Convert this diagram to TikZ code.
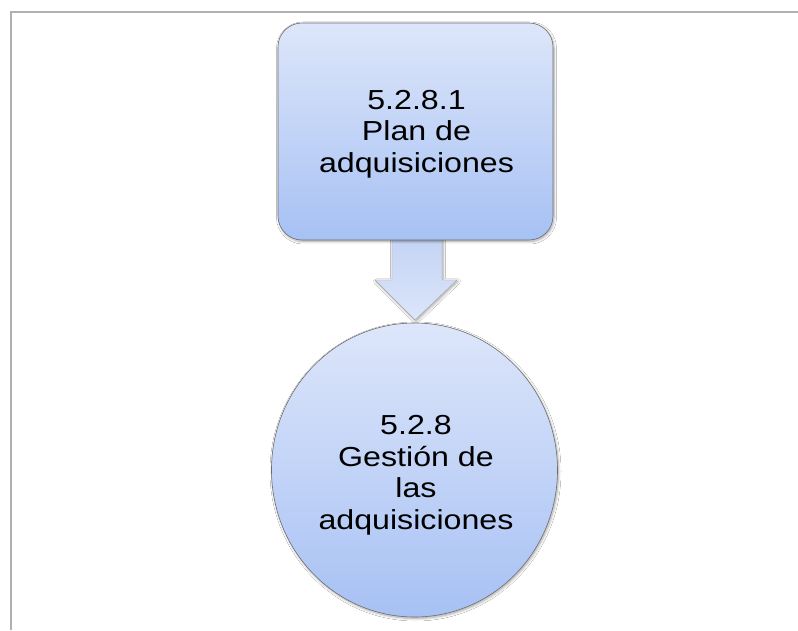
\documentclass[tikz,border=0pt]{standalone}
\usepackage{fontspec}
\setmainfont{Liberation Sans}
\usetikzlibrary{shapes.geometric,shadows.blur}
\definecolor{frame}{HTML}{B0B0B0}
\definecolor{boxtop}{HTML}{DDE6FA}
\definecolor{boxbot}{HTML}{A7C1F4}
\definecolor{arrtop}{HTML}{C4D4F4}
\definecolor{arrbot}{HTML}{DCE5FA}
\definecolor{edge}{HTML}{6E6E6E}
\newcommand{\widetext}[1]{\scalebox{1.17}[1]{\fontsize{27.5}{31.8}\selectfont\setlength{\tabcolsep}{0pt}\begin{tabular}{c}#1\end{tabular}}}
\tikzset{
  soft/.style={blur shadow={shadow blur steps=6, shadow xshift=1pt, shadow yshift=-1.5pt, shadow blur radius=2.5pt, shadow opacity=35}},
  procbox/.style={draw=edge, line width=0.6pt, rounded corners=24pt, soft,
    top color=boxtop, bottom color=boxbot, minimum width=275pt, minimum height=217pt,
    inner sep=0pt},
  procdisc/.style={draw=edge, line width=0.6pt, ellipse, soft,
    top color=boxtop, bottom color=boxbot, minimum width=286pt, minimum height=294pt,
    inner sep=0pt},
  label/.style={inner sep=0pt, text=black},
  flowarrow/.style={draw=edge!60, line width=0.4pt, top color=arrtop, bottom color=arrbot, soft}
}
\begin{document}
\begin{tikzpicture}[x=1pt,y=1pt]
  \useasboundingbox (0,0) rectangle (798,630);
  \fill[white] (0,0) rectangle (798,630);
  % frame lines on top and left
  \draw[frame, line width=2.5pt] (11,0) -- (11,618) -- (798,618);

  % block arrow, drawn first so the shapes cover its ends
  \coordinate (shaftL) at (392,392);
  \coordinate (shaftR) at (442,392);
  \coordinate (tip) at (415,310);
  \path[flowarrow] (shaftL) -- (392,350) -- (375,350) -- (tip) -- (457,350) -- (442,350) -- (shaftR) -- cycle;

  % process box and circle
  \node[procbox] (plan) at (415.5,498.5) {};
  \node[label] (plantext) at (416.5,495.4) {\widetext{5.2.8.1\\Plan de\\adquisiciones}};

  \node[procdisc] (gest) at (414.5,160) {};
  \node[label] (gesttext) at (416,154.4) {\widetext{5.2.8\\Gestión de\\las\\adquisiciones}};
\end{tikzpicture}
\end{document}
